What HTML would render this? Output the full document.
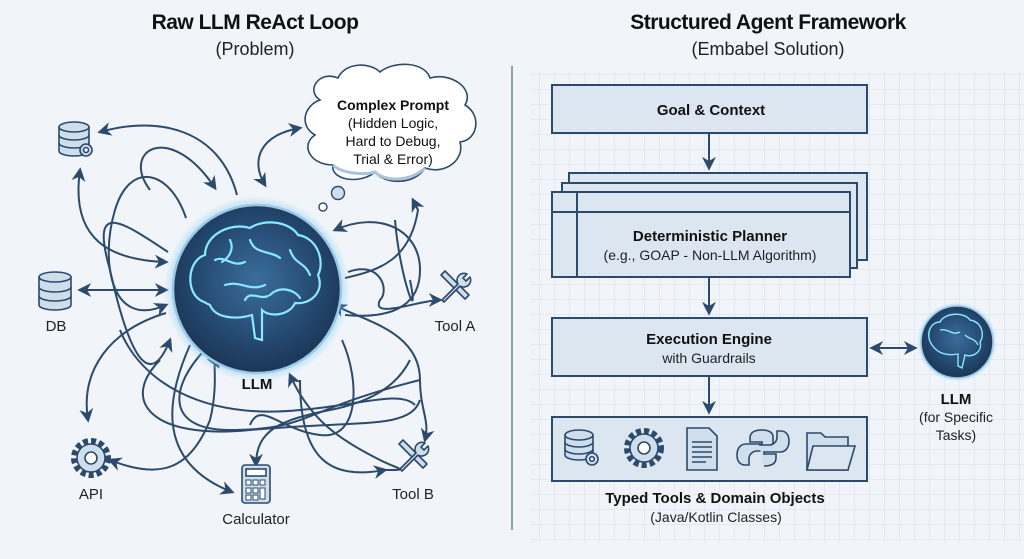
<!DOCTYPE html>
<html><head><meta charset="utf-8"><style>
html,body{margin:0;padding:0}
body{width:1024px;height:559px;overflow:hidden;background:#f1f5f9;font-family:"Liberation Sans",sans-serif}
svg{display:block}
</style></head><body>
<svg width="1024" height="559" viewBox="0 0 1024 559" xmlns="http://www.w3.org/2000/svg">
<defs>
<pattern id="grid" width="15" height="15" patternUnits="userSpaceOnUse">
<path d="M15 0V15H0" fill="none" stroke="#d6e0ea" stroke-width="1"/>
</pattern>
<marker id="ar" viewBox="0 0 10 10" refX="8" refY="5" markerWidth="7" markerHeight="7" orient="auto-start-reverse">
<path d="M0 0L10 5L0 10L3 5z" fill="#2c4a6b"/>
</marker>
<radialGradient id="orb" cx="50%" cy="45%" r="55%">
<stop offset="0" stop-color="#3a6d9c"/><stop offset="0.7" stop-color="#23466d"/><stop offset="1" stop-color="#1a3656"/>
</radialGradient>
<radialGradient id="glow" cx="50%" cy="50%" r="50%">
<stop offset="0.82" stop-color="#6fc6f0" stop-opacity="0.7"/><stop offset="1" stop-color="#6fc6f0" stop-opacity="0"/>
</radialGradient>
</defs>
<rect width="1024" height="559" fill="#f1f5f9"/>
<rect x="530" y="72" width="494" height="470" fill="url(#grid)"/>
<line x1="512" y1="66" x2="512" y2="530" stroke="#4a6582" stroke-width="1.2"/>

<g text-anchor="middle" fill="#111">
<text x="255" y="29" font-size="21" font-weight="bold" letter-spacing="-0.5">Raw LLM ReAct Loop</text>
<text x="255" y="55" font-size="18" fill="#222">(Problem)</text>
<text x="768" y="29" font-size="21" font-weight="bold" letter-spacing="-0.5">Structured Agent Framework</text>
<text x="768" y="55" font-size="18" fill="#222">(Embabel Solution)</text>
</g>

<g fill="none" stroke="#2c4a6b" stroke-width="2">
<path d="M100 132 C160 115 220 130 237 195" marker-start="url(#ar)"/>
<path d="M80 170 C70 240 110 260 166 262" marker-start="url(#ar)" marker-end="url(#ar)"/>
<path d="M80 290 H166" marker-start="url(#ar)" marker-end="url(#ar)"/>
<path d="M150 190 C120 150 170 120 215 188" marker-end="url(#ar)"/>
<path d="M186 218 C170 170 130 160 115 210 C100 260 110 330 166 305" marker-end="url(#ar)"/>
<path d="M168 252 C120 220 90 200 110 270 C130 360 150 390 170 340" marker-end="url(#ar)"/>
<path d="M166 313 C110 330 80 370 88 420" marker-end="url(#ar)"/>
<path d="M215 340 C170 380 160 430 230 430 C310 430 300 410 420 380" />
<path d="M110 460 C160 480 190 470 210 420 C220 380 210 350 218 366" marker-start="url(#ar)" marker-end="url(#ar)"/>
<path d="M190 345 C170 390 150 460 232 492" marker-end="url(#ar)"/>
<path d="M256 465 C256 430 280 420 330 410 C380 400 400 380 410 360" marker-start="url(#ar)"/>
<path d="M290 375 C310 420 340 440 380 460 C400 470 410 470 385 470" marker-start="url(#ar)"/>
<path d="M300 380 C300 460 330 480 385 470" marker-end="url(#ar)"/>
<path d="M342 340 C360 380 360 440 320 435 C280 430 260 400 250 425"/>
<path d="M335 305 C360 320 420 330 420 380 C420 410 430 420 425 440" marker-start="url(#ar)" marker-end="url(#ar)"/>
<path d="M345 278 C380 270 410 260 418 210 L413 200" marker-end="url(#ar)"/>
<path d="M335 230 C380 210 420 230 420 270 C420 300 400 320 345 315" marker-start="url(#ar)"/>
<path d="M348 272 C380 260 390 290 380 300 C370 320 420 300 440 300" marker-end="url(#ar)"/>
<path d="M395 220 C400 280 420 330 410 280" />
<path d="M265 185 C250 160 260 135 300 128" marker-start="url(#ar)" marker-end="url(#ar)"/>
<path d="M160 360 C120 400 150 440 250 430 C360 420 410 430 420 400"/>
<path d="M120 330 C140 380 200 420 300 410 C360 405 400 390 415 405"/>
</g>

<g>
<path d="M320 100 C305 90 320 70 338 78 C345 62 370 62 380 72 C395 60 425 62 430 78 C450 72 475 88 465 105 C482 115 478 140 460 142 C465 160 445 175 425 168 C415 185 385 185 375 172 C360 185 330 180 333 165 C310 165 300 145 315 135 C298 125 305 105 320 100Z" fill="#ffffff" stroke="#2c4a6b" stroke-width="1.6"/>
<path d="M333 165 C340 172 360 176 375 172 C385 182 410 182 425 168" fill="none" stroke="#a9c3dc" stroke-width="3"/>
<circle cx="338" cy="193" r="6.5" fill="#cfdeed" stroke="#2c4a6b" stroke-width="1.4"/>
<circle cx="323" cy="207" r="4" fill="#fff" stroke="#2c4a6b" stroke-width="1.4"/>
<g text-anchor="middle" font-size="14" fill="#111">
<text x="393" y="110" font-weight="bold">Complex Prompt</text>
<text x="393" y="128">(Hidden Logic,</text>
<text x="393" y="146">Hard to Debug,</text>
<text x="393" y="164">Trial &amp; Error)</text>
</g>
</g>

<circle cx="257" cy="289" r="93" fill="url(#glow)"/>
<circle cx="257" cy="289" r="84" fill="url(#orb)" stroke="#9cc8e6" stroke-width="2.5"/>
<g fill="none" stroke="#8ae8ff" stroke-width="2.2" stroke-linecap="round">
<path d="M200 300 C185 290 188 260 205 255 C205 235 230 222 250 228 C265 218 290 222 298 235 C318 238 325 262 318 275 C325 292 310 305 295 303 C290 315 270 318 262 310 L262 340 L255 338 L252 315 C235 320 215 318 210 305 Z"/>
<path d="M215 260 C225 255 232 268 245 262 M250 240 C255 255 270 250 280 258 M290 250 C295 265 305 262 310 275 M225 285 C240 280 250 292 265 285 M270 295 C280 285 295 290 300 298 M230 240 C235 250 228 258 222 262 M245 300 C250 290 260 300 268 296"/>
</g>
<text x="257" y="389" text-anchor="middle" font-size="15" font-weight="bold" fill="#111">LLM</text>

<g stroke="#2c4a6b" stroke-width="1.6" fill="#cfdeed">
<path d="M59 127 v24 a15 5 0 0 0 30 0 v-24"/><ellipse cx="74" cy="127" rx="15" ry="5"/>
<path d="M59 135 a15 5 0 0 0 30 0 M59 143 a15 5 0 0 0 30 0" fill="none"/>
<circle cx="86" cy="150" r="6" fill="#cfdeed"/><circle cx="86" cy="150" r="2.5" fill="#fff"/>
<path d="M39 277 v28 a16 5 0 0 0 32 0 v-28"/><ellipse cx="55" cy="277" rx="16" ry="5"/>
<path d="M39 287 a16 5 0 0 0 32 0 M39 296 a16 5 0 0 0 32 0" fill="none"/>
<circle cx="91" cy="458" r="17" stroke-dasharray="5 3" stroke-width="6" fill="none"/>
<circle cx="91" cy="458" r="14"/><circle cx="91" cy="458" r="6" fill="#fff"/>
<rect x="242" y="465" width="28" height="38" rx="3"/>
<rect x="246" y="469" width="20" height="7" fill="#fff"/>
<g fill="#fff" stroke-width="1"><rect x="246" y="480" width="5" height="5"/><rect x="253" y="480" width="5" height="5"/><rect x="260" y="480" width="5" height="5"/><rect x="246" y="488" width="5" height="5"/><rect x="253" y="488" width="5" height="5"/><rect x="260" y="488" width="5" height="11"/><rect x="246" y="495" width="5" height="5"/><rect x="253" y="495" width="5" height="5"/></g>
</g>
<g stroke="#2c4a6b" stroke-width="1.6" fill="#cfdeed" stroke-linejoin="round">
<g transform="translate(455 287)"><path d="M-14 -12 l4 -4 l24 24 l-4 4z"/><path d="M-13 13 l16 -16 a7 7 0 0 1 9 -10 l-4 4 l3 3 l4 -4 a7 7 0 0 1 -10 9 l-16 16z"/></g>
<g transform="translate(413 456)"><path d="M-14 -12 l4 -4 l24 24 l-4 4z"/><path d="M-13 13 l16 -16 a7 7 0 0 1 9 -10 l-4 4 l3 3 l4 -4 a7 7 0 0 1 -10 9 l-16 16z"/></g>
</g>
<g font-size="15" fill="#222" text-anchor="middle">
<text x="56" y="331">DB</text><text x="455" y="331">Tool A</text>
<text x="91" y="499">API</text><text x="413" y="499">Tool B</text>
<text x="256" y="524">Calculator</text>
</g>

<g stroke="#2c4a6b" stroke-width="2" fill="#dbe6f1">
<rect x="552" y="85" width="315" height="48"/>
<rect x="569" y="173" width="298" height="87"/>
<rect x="562" y="183" width="295" height="85"/>
<rect x="552" y="192" width="298" height="85"/>
<line x1="577" y1="192" x2="577" y2="277"/><line x1="552" y1="212" x2="850" y2="212"/>
<rect x="552" y="318" width="315" height="58"/>
<rect x="552" y="417" width="315" height="64"/>
</g>
<g stroke="#2c4a6b" stroke-width="2" fill="none">
<path d="M709 133 V168" marker-end="url(#ar)"/>
<path d="M709 277 V313" marker-end="url(#ar)"/>
<path d="M709 376 V412" marker-end="url(#ar)"/>
<path d="M872 348 H915" marker-start="url(#ar)" marker-end="url(#ar)"/>
</g>
<g text-anchor="middle" fill="#111">
<text x="711" y="115" font-size="15" font-weight="bold">Goal &amp; Context</text>
<text x="710" y="241" font-size="15" font-weight="bold">Deterministic Planner</text>
<text x="710" y="260" font-size="14" fill="#222">(e.g., GOAP - Non-LLM Algorithm)</text>
<text x="709" y="344" font-size="15" font-weight="bold">Execution Engine</text>
<text x="709" y="363" font-size="14" fill="#222">with Guardrails</text>
<text x="715" y="503" font-size="15" font-weight="bold">Typed Tools &amp; Domain Objects</text>
<text x="716" y="522" font-size="14" fill="#222">(Java/Kotlin Classes)</text>
<text x="956" y="404" font-size="15" font-weight="bold">LLM</text>
<text x="956" y="422" font-size="14" fill="#222">(for Specific</text>
<text x="956" y="440" font-size="14" fill="#222">Tasks)</text>
</g>
<circle cx="957" cy="342" r="40" fill="url(#glow)"/>
<circle cx="957" cy="342" r="36" fill="url(#orb)" stroke="#9cc8e6" stroke-width="1.5"/>
<g fill="none" stroke="#8ae8ff" stroke-width="1.4"><path d="M932 345 C925 335 930 322 940 322 C945 312 965 312 970 320 C982 322 985 335 980 342 C983 352 972 358 965 355 L962 368 L958 366 L958 354 C948 356 938 354 932 345Z M940 330 C948 328 952 336 960 332 M965 335 C970 340 975 338 978 345"/></g>

<g stroke="#2c4a6b" stroke-width="1.6" fill="#cfdeed">
<path d="M565 435 v20 a14 5 0 0 0 28 0 v-20"/><ellipse cx="579" cy="435" rx="14" ry="5"/>
<path d="M565 442 a14 5 0 0 0 28 0 M565 449 a14 5 0 0 0 28 0" fill="none"/>
<circle cx="592" cy="459" r="6"/><circle cx="592" cy="459" r="2.3" fill="#fff"/>
<circle cx="644" cy="448" r="17" stroke-dasharray="5 3" stroke-width="6" fill="none"/>
<circle cx="644" cy="448" r="14"/><circle cx="644" cy="448" r="6" fill="#fff"/>
<path d="M687 428 h22 l8 8 v34 h-30z"/>
<path d="M692 442 h20 M692 447 h20 M692 452 h20 M692 457 h20 M692 462 h14" fill="none"/>
<path d="M762 430 c-10 0 -12 4 -12 8 v4 h12 v2 h-16 c-6 0 -9 5 -9 11 c0 6 3 10 8 10 h4 v-6 c0 -5 4 -8 8 -8 h10 c4 0 6 -3 6 -6 v-8 c0 -5 -5 -7 -11 -7z"/>
<path d="M764 466 c10 0 12 -4 12 -8 v-4 h-12 v-2 h16 c6 0 9 -5 9 -11 c0 -6 -3 -10 -8 -10 h-4 v6 c0 5 -4 8 -8 8 h-10" fill="#cfdeed"/>
<path d="M807 433 h14 l4 4 h23 v33 h-41z"/><path d="M807 470 l6 -24 h42 l-7 24z" fill="#dbe6f1"/>
</g>
</svg>
</body></html>
